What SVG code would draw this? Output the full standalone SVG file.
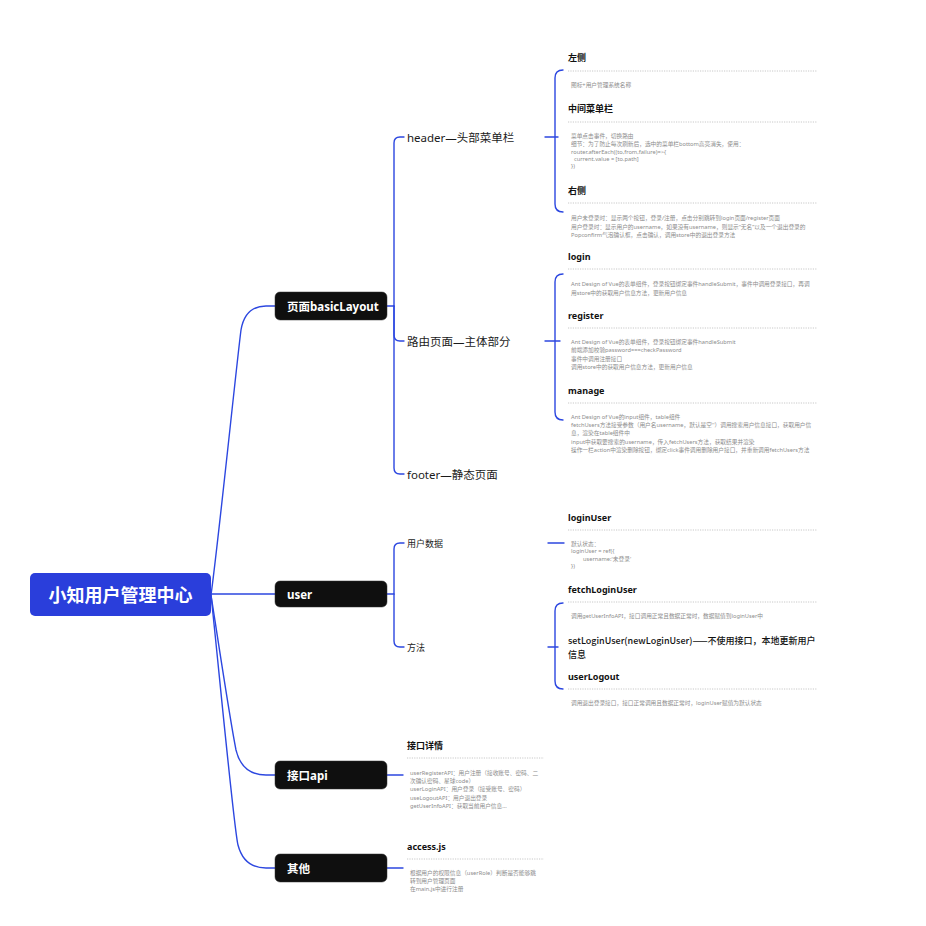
<svg xmlns="http://www.w3.org/2000/svg" width="926" height="926" viewBox="0 0 926 926">
<style>
text{font-family:"Noto Sans","Noto Sans CJK SC",sans-serif;dominant-baseline:central}
.root{fill:#2a3edb}
.root-t{fill:#fff;font-size:18px;font-weight:bold}
.n1{fill:#0f0f0f;stroke:#333;stroke-width:0.5}
.n1-t{fill:#fff;font-size:11.5px;font-weight:bold}
.n2-t{fill:#1a1a1a;font-size:11.5px}
.n2s-t{fill:#1a1a1a;font-size:9px}
.h{fill:#111;font-size:9px;font-weight:bold}
.m{fill:#111;font-size:9px;font-weight:500;font-family:"Noto Sans CJK SC","Noto Sans",sans-serif}
.g{fill:#8c8c8c;font-size:5.7px}
.sep{stroke:#c8c8c8;stroke-width:1;stroke-dasharray:1.2 1.2;fill:none}
.c{stroke:#2c47e0;stroke-width:1.4;fill:none;stroke-linecap:round}
</style>
<rect width="926" height="926" fill="#fff"/>
<g id="connectors">
<path class="c" d="M211,595 C218,545 237,360 241,330 Q245,306 266,306 H275"/>
<path class="c" d="M211,594 H275"/>
<path class="c" d="M211,595 C218,640 230,720 236,750 Q242,775 266,775 H275"/>
<path class="c" d="M211,595 C218,660 234,830 238,845 Q244,868 266,868 H275"/>
<path class="c" d="M387,306 H394 V143 Q394,137 400,137 H404"/>
<path class="c" d="M394,306 V335 Q394,341 400,341 H404"/>
<path class="c" d="M394,306 V468 Q394,474 400,474 H404"/>
<path class="c" d="M387,594 H394 V549 Q394,543 400,543 H404"/>
<path class="c" d="M394,594 V641 Q394,647 400,647 H404"/>
<path class="c" d="M387,775 H403"/>
<path class="c" d="M387,868 H403"/>
<path class="c" d="M545,137 H558"/>
<path class="c" d="M563,70 Q555,70 555,78 V204 Q555,212 563,212"/>
<path class="c" d="M545,341 H560"/>
<path class="c" d="M563,274 Q555,274 555,282 V412 Q555,420 563,420"/>
<path class="c" d="M548,543 H564"/>
<path class="c" d="M548,647 H558"/>
<path class="c" d="M563,603 Q555,603 555,611 V681 Q555,689 563,689"/>
</g>
<g id="root">
<rect class="root" x="30" y="573" width="181" height="43" rx="5"/>
<text class="root-t" x="120.5" y="595" text-anchor="middle">小知用户管理中心</text>
</g>
<g id="n-layout">
<rect class="n1" x="275" y="292" width="112" height="28" rx="5"/>
<text class="n1-t" x="287" y="306">页面basicLayout</text>
</g>
<g id="n-user">
<rect class="n1" x="275" y="581" width="112" height="26" rx="5"/>
<text class="n1-t" x="287" y="594">user</text>
</g>
<g id="n-api">
<rect class="n1" x="275" y="761" width="112" height="28" rx="5"/>
<text class="n1-t" x="287" y="775">接口api</text>
</g>
<g id="n-other">
<rect class="n1" x="275" y="854" width="112" height="28" rx="5"/>
<text class="n1-t" x="287" y="868">其他</text>
</g>
<g id="n-header"><text class="n2-t" x="407" y="137">header—头部菜单栏</text></g>
<g id="n-route"><text class="n2-t" x="407" y="341">路由页面—主体部分</text></g>
<g id="n-footer"><text class="n2-t" x="407" y="474">footer—静态页面</text></g>
<g id="n-userdata"><text class="n2s-t" x="407" y="543">用户数据</text></g>
<g id="n-methods"><text class="n2s-t" x="407" y="647">方法</text></g>

<g id="b-header">
<text class="h" x="568" y="57">左侧</text>
<line class="sep" x1="568" y1="71" x2="817" y2="71"/>
<text class="g" x="571" y="85">图标+用户管理系统名称</text>
<text class="h" x="568" y="108">中间菜单栏</text>
<line class="sep" x1="568" y1="122" x2="817" y2="122"/>
<text class="g" x="571" y="136">菜单点击事件，切换路由</text>
<text class="g" x="571" y="144">细节：为了防止每次刷新后，选中的菜单栏bottom高亮消失，使用：</text>
<text class="g" x="571" y="152">router.afterEach((to,from,failure)=>{</text>
<text class="g" x="574" y="159">current.value = [to.path]</text>
<text class="g" x="571" y="166">})</text>
<text class="h" x="568" y="190">右侧</text>
<line class="sep" x1="568" y1="203" x2="817" y2="203"/>
<text class="g" x="571" y="218">用户未登录时：显示两个按钮，登录/注册，点击分别跳转到login页面/register页面</text>
<text class="g" x="571" y="226.5">用户登录时：显示用户的username，如果没有username，则显示“无名”以及一个退出登录的</text>
<text class="g" x="571" y="235">Popconfirm气泡确认框，点击确认，调用store中的退出登录方法</text>
</g>

<g id="b-route">
<text class="h" x="568" y="256">login</text>
<line class="sep" x1="568" y1="269" x2="817" y2="269"/>
<text class="g" x="571" y="284">Ant Design of Vue的表单组件，登录按钮绑定事件handleSubmit，事件中调用登录接口，再调</text>
<text class="g" x="571" y="292.5">用store中的获取用户信息方法，更新用户信息</text>
<text class="h" x="568" y="315">register</text>
<line class="sep" x1="568" y1="328" x2="817" y2="328"/>
<text class="g" x="571" y="342">Ant Design of Vue的表单组件，登录按钮绑定事件handleSubmit</text>
<text class="g" x="571" y="350">前端添加校验password===checkPassword</text>
<text class="g" x="571" y="358.5">事件中调用注册接口</text>
<text class="g" x="571" y="367">调用store中的获取用户信息方法，更新用户信息</text>
<text class="h" x="568" y="390">manage</text>
<line class="sep" x1="568" y1="403" x2="817" y2="403"/>
<text class="g" x="571" y="416.5">Ant Design of Vue的input组件，table组件</text>
<text class="g" x="571" y="425">fetchUsers方法接受参数（用户名username，默认是空''）调用搜索用户信息接口，获取用户信</text>
<text class="g" x="571" y="433">息，渲染在table组件中</text>
<text class="g" x="571" y="441.5">input中获取要搜索的username，传入fetchUsers方法，获取结果并渲染</text>
<text class="g" x="571" y="450">操作一栏action中渲染删除按钮，绑定click事件调用删除用户接口，并重新调用fetchUsers方法</text>
</g>

<g id="b-userdata">
<text class="h" x="568" y="517">loginUser</text>
<line class="sep" x1="568" y1="530" x2="817" y2="530"/>
<text class="g" x="571" y="544">默认状态：</text>
<text class="g" x="571" y="551">loginUser = ref({</text>
<text class="g" x="583" y="558.5">username:'未登录'</text>
<text class="g" x="571" y="566">})</text>
</g>

<g id="b-methods">
<text class="h" x="568" y="589">fetchLoginUser</text>
<line class="sep" x1="568" y1="602" x2="817" y2="602"/>
<text class="g" x="571" y="615.5">调用getUserInfoAPI，接口调用正常且数据正常时，数据赋值到loginUser中</text>
<text class="m" x="568" y="640">setLoginUser(newLoginUser)——不使用接口，本地更新用户</text>
<text class="m" x="568" y="654">信息</text>
<text class="h" x="568" y="676">userLogout</text>
<line class="sep" x1="568" y1="689" x2="817" y2="689"/>
<text class="g" x="571" y="703">调用退出登录接口，接口正常调用且数据正常时，loginUser赋值为默认状态</text>
</g>

<g id="b-api">
<text class="h" x="407" y="745">接口详情</text>
<line class="sep" x1="407" y1="758" x2="544" y2="758"/>
<text class="g" x="410" y="773">userRegisterAPI：用户注册（接收账号、密码、二</text>
<text class="g" x="410" y="781">次确认密码、星球code）</text>
<text class="g" x="410" y="789">userLoginAPI：用户登录（接受账号、密码）</text>
<text class="g" x="410" y="797.5">useLogoutAPI：用户退出登录</text>
<text class="g" x="410" y="806">getUserInfoAPI：获取当前用户信息...</text>
</g>

<g id="b-other">
<text class="h" x="407" y="846">access.js</text>
<line class="sep" x1="407" y1="859" x2="544" y2="859"/>
<text class="g" x="410" y="873">根据用户的权限信息（userRole）判断是否能够跳</text>
<text class="g" x="410" y="881">转到用户管理页面</text>
<text class="g" x="410" y="889">在main.js中进行注册</text>
</g>
</svg>
